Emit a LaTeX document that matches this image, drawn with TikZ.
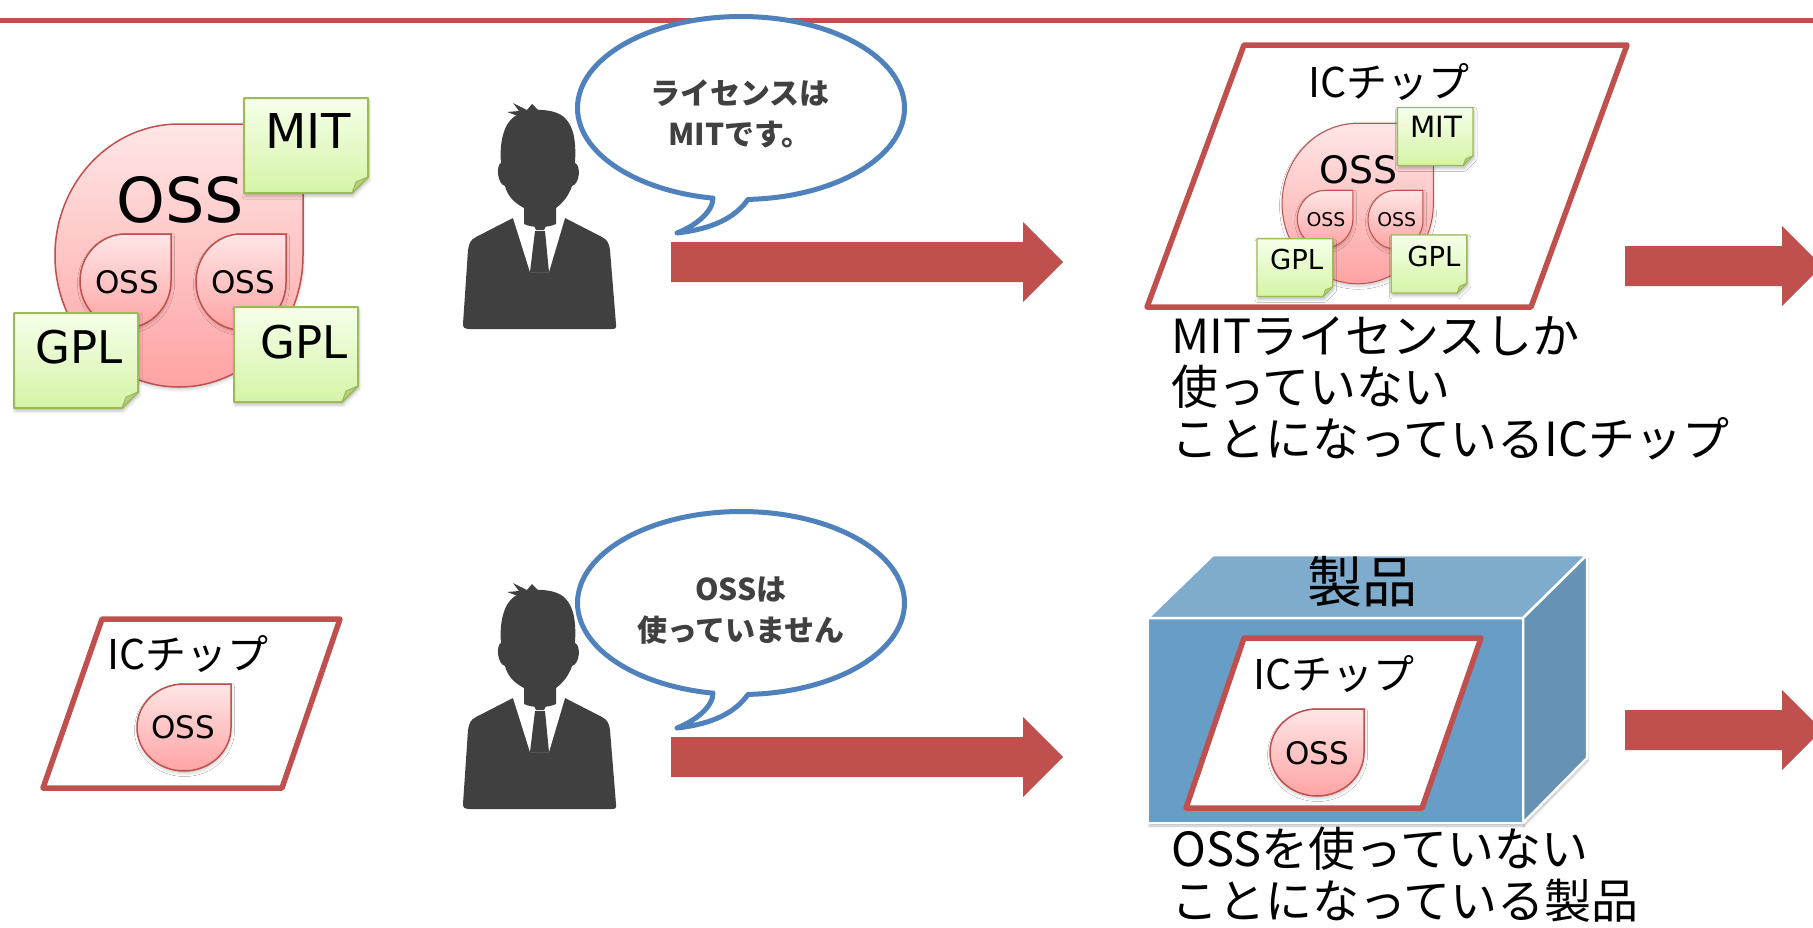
\documentclass[tikz,border=0pt]{standalone}
\usepackage{fontspec}
\setmainfont{Noto Sans CJK JP}
\newfontfamily\latinfont{DejaVu Sans}
\usetikzlibrary{shadows.blur}

\definecolor{linered}{HTML}{C0504D}
\definecolor{talkblue}{HTML}{4F81BD}
\definecolor{suitgray}{HTML}{404040}
\definecolor{droptop}{HTML}{FFE6E6}
\definecolor{dropbot}{HTML}{FFA3A3}
\definecolor{notetop}{HTML}{F6FFEA}
\definecolor{notebot}{HTML}{D5F4A6}
\definecolor{noteedge}{HTML}{9BBB59}
\definecolor{notefold}{HTML}{B4CF80}
\definecolor{boxfront}{RGB}{103,157,199}
\definecolor{boxtop}{RGB}{127,172,205}
\definecolor{boxside}{RGB}{102,146,181}

% teardrop: x0 y0 x1 y1, square corner top right
\newcommand{\ossdrop}[4]{%
  \pgfmathsetmacro\dropcx{(#1+#3)/2}%
  \pgfmathsetmacro\dropcy{(#2+#4)/2}%
  \pgfmathsetmacro\dropkx{0.5523*(#3-#1)/2}%
  \pgfmathsetmacro\dropky{0.5523*(#4-#2)/2}%
  \path[dropshape] (#3,#2) -- (#3,\dropcy)
    .. controls (#3,\dropcy+\dropky) and (\dropcx+\dropkx,#4) .. (\dropcx,#4)
    .. controls (\dropcx-\dropkx,#4) and (#1,\dropcy+\dropky) .. (#1,\dropcy)
    .. controls (#1,\dropcy-\dropky) and (\dropcx-\dropkx,#2) .. (\dropcx,#2) -- cycle;}

% sticky note with folded corner: x0 y0 x1 y1
\newcommand{\licnote}[4]{%
  \path[notebox] (#1,#2) -- (#3,#2) -- (#3,#4-16) -- (#3-16,#4) -- (#1,#4) -- cycle;
  \path[notefoldst] (#3,#4-16) -- (#3-16,#4) -- (#3-12,#4-11) -- cycle;}

% OSS blob with its licences
\newcommand{\ossgroup}[1]{%
  \ossdrop{55}{124}{303}{387}
  \node[lbl, font=\latinfont\fontsize{62}{62}\selectfont] (#1-oss) at (180,222) {OSS};
  \ossdrop{80}{234}{171}{328}
  \ossdrop{196}{234}{286}{330}
  \node[lbl, smalloss] (#1-ossl) at (127,293) {OSS};
  \node[lbl, smalloss] (#1-ossr) at (243,293) {OSS};
  \licnote{244}{98}{368}{193}
  \node[lbl, font=\latinfont\fontsize{48}{48}\selectfont] (#1-mit) at (308,148) {MIT};
  \licnote{14}{313}{138}{408}
  \node[lbl, font=\latinfont\fontsize{45}{45}\selectfont] (#1-gpll) at (79,363) {GPL};
  \licnote{234}{307}{358}{402}
  \node[lbl, font=\latinfont\fontsize{45}{45}\selectfont] (#1-gplr) at (304,358) {GPL};}

% speech bubble, centre height as argument
\newcommand{\bubble}[1]{%
  \draw[talk] (741,#1) ellipse [x radius=163.5, y radius=91.5];
  \fill[white] (713,#1+80) -- (713,#1+90) .. controls (713,#1+104) and (695,#1+118) .. (677,#1+125)
    .. controls (712,#1+121) and (735,#1+110) .. (748,#1+91.4) -- (748,#1+80) -- cycle;
  \draw[talk, fill=none] (713,#1+90) .. controls (713,#1+104) and (695,#1+118) .. (677,#1+125)
    .. controls (712,#1+121) and (735,#1+110) .. (748,#1+91.4);}

% man in a suit, origin at the collar
\newcommand{\suitman}{%
  \fill[suitgray] (-27,-2) -- (-64,17) .. controls (-70,20) and (-71,24) .. (-72,30) -- (-77,104)
    .. controls (-77,108) and (-75,109) .. (-72,109) -- (72,109) .. controls (75,109) and (77,108) .. (76,104)
    -- (70,30) .. controls (69,24) and (68,20) .. (62,17) -- (25,-2) -- cycle;
  \fill[white] (-27,-2) -- (25,-2) -- (9,52) -- (-10,52) -- cycle;
  \fill[suitgray] (-16,4) -- (-16,-12) .. controls (-26,-17) and (-33,-25) .. (-35,-34)
    .. controls (-43,-36) and (-44,-55) .. (-39,-57) .. controls (-41,-80) and (-35,-102) .. (-20,-106)
    .. controls (-10,-112) and (15,-112) .. (25,-102) .. controls (35,-92) and (36,-75) .. (35,-57)
    .. controls (41,-55) and (40,-36) .. (32,-34) .. controls (29,-25) and (23,-17) .. (16,-12)
    -- (16,4) .. controls (8,8) and (-8,8) .. (-16,4) -- cycle;
  \fill[suitgray] (-22,-104) -- (-33,-108) -- (-21,-109) -- (-27,-117) -- (-13,-110) -- (-8,-116) -- (0,-108) -- cycle;
  \fill[suitgray] (-7,4) -- (0,1) -- (7,4) -- (4,10) -- (-4,10) -- cycle;
  \fill[suitgray] (-5,11) -- (5,11) -- (9,52) -- (-10,52) -- cycle;}

% thick block arrow: start, tip, centre height
\newcommand{\blockarrow}[3]{%
  \fill[linered] (#1,#3-20) -- (#2-40,#3-20) -- (#2-40,#3-40) -- (#2,#3) -- (#2-40,#3+40)
    -- (#2-40,#3+20) -- (#1,#3+20) -- cycle;}

\begin{document}
\begin{tikzpicture}[x=1pt, y=-1pt,
  lbl/.style={inner sep=0pt, anchor=base},
  smalloss/.style={font=\latinfont\fontsize{31}{31}\selectfont},
  dropshape/.style={draw=linered, line width=1.5pt, top color=droptop, bottom color=dropbot,
    blur shadow={shadow xshift=0.5pt, shadow yshift=-2.5pt, shadow blur radius=3pt, shadow opacity=20}},
  notebox/.style={draw=noteedge, line width=2pt, line join=round, top color=notetop, bottom color=notebot,
    blur shadow={shadow xshift=1pt, shadow yshift=-3pt, shadow blur radius=3pt, shadow opacity=25}},
  notefoldst/.style={fill=notefold, draw=noteedge, line width=1pt, line join=round},
  chip/.style={draw=linered, line width=5.5pt, fill=white, line join=round},
  chiptext/.style={font=\fontsize{41}{41}\selectfont, inner sep=0pt},
  talk/.style={draw=talkblue, line width=5pt, fill=white, line join=round, line cap=round},
  talktext/.style={font=\bfseries\fontsize{30}{41}\selectfont, text=suitgray, align=center, inner sep=0pt},
  bigtext/.style={font=\fontsize{47}{51.5}\selectfont, align=left, inner sep=0pt, anchor=north west},
  boxface/.style={draw=white, line width=2.5pt, line join=round}]
\useasboundingbox (0,0) rectangle (1813,927);
\draw[linered, line width=5pt] (0,20) -- (1813,20);

% first row
\ossgroup{src}
\bubble{108}
\node[talktext] (say1) at (740,114) {ライセンスは\\MITです。};
\begin{scope}[shift={(540,220)}]
  \suitman
\end{scope}
\blockarrow{671}{1063}{262}
\draw[chip] (1244,45) -- (1627,45) -- (1531,307) -- (1147,307) -- cycle;
\node[chiptext] (chip1) at (1389,82) {ICチップ};
\begin{scope}[shift={(1248.5,47.7)}, scale=0.61, transform shape,
    dropshape/.append style={line width=1pt}, notebox/.append style={line width=1.3pt}]
  \ossgroup{inchip}
\end{scope}
\node[bigtext] (claim1) at (1171,316) {MITライセンスしか\\使っていない\\ことになっているICチップ};
\blockarrow{1625}{1822}{266}

% second row
\draw[chip] (102,619) -- (340,619) -- (282,788) -- (43,788) -- cycle;
\node[chiptext] (chip2) at (188,654) {ICチップ};
\ossdrop{137}{684}{231}{771}
\node[lbl, smalloss] (oss2) at (183,738) {OSS};
\bubble{603}
\node[talktext] (say2) at (741,611) {OSSは\\使っていません};
\begin{scope}[shift={(540,700)}]
  \suitman
\end{scope}
\blockarrow{671}{1063}{757}
\path[boxface, fill=boxfront, blur shadow={shadow xshift=1pt, shadow yshift=-3pt, shadow opacity=25}]
  (1148,618) rectangle (1523,823);
\path[boxface, fill=boxtop] (1148,618) -- (1213,555) -- (1587,555) -- (1523,618) -- cycle;
\path[boxface, fill=boxside, blur shadow={shadow xshift=1pt, shadow yshift=-3pt, shadow opacity=25}]
  (1523,618) -- (1587,555) -- (1587,758) -- (1523,823) -- cycle;
\node[inner sep=0pt, font=\fontsize{55}{55}\selectfont] (product) at (1362,582) {製品};
\draw[chip] (1244,638) -- (1481,638) -- (1422,808) -- (1186,808) -- cycle;
\node[chiptext] (chip3) at (1334,674) {ICチップ};
\ossdrop{1270}{709}{1364}{796}
\node[lbl, smalloss] (oss3) at (1317,764) {OSS};
\node[bigtext] (claim2) at (1171,827) {OSSを使っていない\\ことになっている製品};
\blockarrow{1625}{1822}{730}
\end{tikzpicture}
\end{document}
